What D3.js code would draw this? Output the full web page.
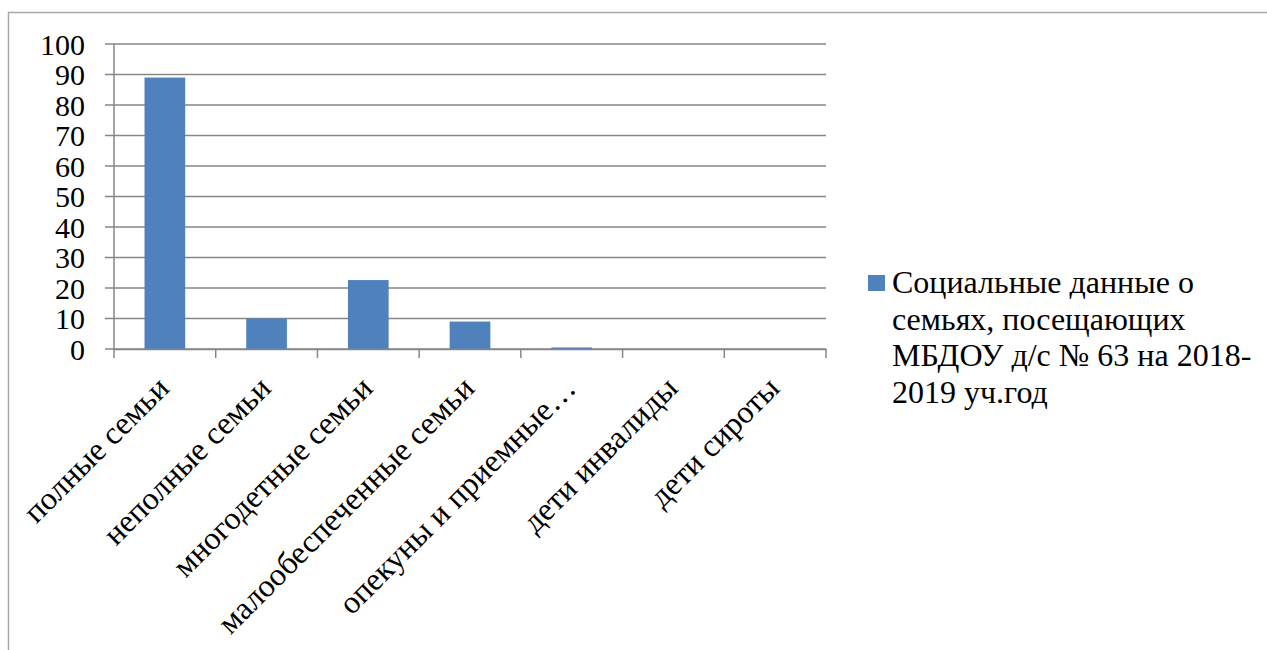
<!DOCTYPE html>
<html>
<head>
<meta charset="utf-8">
<script src="https://cdn.jsdelivr.net/npm/d3@7"></script>
<style>
  html, body { margin: 0; padding: 0; background: #fff; }
  svg { display: block; }
</style>
</head>
<body>
<svg id="chart" width="1267" height="650"></svg>
<script>
// Chart data
const categories = ['полные семьи', 'неполные семьи', 'многодетные семьи',
  'малообеспеченные семьи', 'опекуны и приемные…', 'дети инвалиды', 'дети сироты'];
const values = [89, 10, 22.6, 9, 0.5, 0, 0];
const yTicks = [0, 10, 20, 30, 40, 50, 60, 70, 80, 90, 100];
const seriesName = ['Социальные данные о', 'семьях, посещающих',
  'МБДОУ д/с № 63 на 2018-', '2019 уч.год'];

const svg = d3.select('#chart');
const gray = '#868686';
const barColor = '#4F81BD';
const serif = '"Liberation Serif", serif';

// Outer chart frame (runs off the right and bottom edges)
svg.append('rect')
  .attr('x', 8.5).attr('y', 12.5)
  .attr('width', 1400).attr('height', 800)
  .attr('fill', 'none')
  .attr('stroke', '#a6a6a6')
  .attr('stroke-width', 1.5);

const plot = { left: 114, right: 826, top: 44, bottom: 349 };

const x = d3.scaleBand()
  .domain(categories)
  .range([plot.left, plot.right])
  .padding(0);

const y = d3.scaleLinear()
  .domain([0, 100])
  .range([plot.bottom, plot.top]);

// Gridlines with the left tick stubs
svg.append('g')
  .selectAll('line')
  .data(yTicks)
  .join('line')
  .attr('x1', plot.left - 9)
  .attr('x2', plot.right)
  .attr('y1', d => y(d))
  .attr('y2', d => y(d))
  .attr('stroke', gray)
  .attr('stroke-width', 1.5);

// Bars
const barW = x.bandwidth() * 0.4;
svg.append('g')
  .selectAll('rect')
  .data(values)
  .join('rect')
  .attr('x', (d, i) => x(categories[i]) + (x.bandwidth() - barW) / 2)
  .attr('y', d => y(d))
  .attr('width', barW)
  .attr('height', d => y(0) - y(d))
  .attr('fill', barColor);

// Y axis line
svg.append('line')
  .attr('x1', plot.left).attr('x2', plot.left)
  .attr('y1', plot.top).attr('y2', plot.bottom)
  .attr('stroke', gray)
  .attr('stroke-width', 1.5);

// Y tick labels
svg.append('g')
  .selectAll('text')
  .data(yTicks)
  .join('text')
  .attr('x', 85)
  .attr('y', d => y(d))
  .attr('dy', '0.35em')
  .attr('text-anchor', 'end')
  .style('font-family', serif)
  .style('font-size', '30px')
  .attr('fill', '#000')
  .text(d => d);

// X axis with band boundary ticks
const xAxis = d3.axisBottom(x).tickSize(0).tickFormat('');
const xg = svg.append('g')
  .attr('transform', `translate(0,${plot.bottom})`)
  .call(xAxis);
xg.select('.domain').attr('stroke', gray).attr('stroke-width', 1.5);
xg.selectAll('.tick').remove();

const bounds = categories.map(c => x(c)).concat([plot.right]);
xg.selectAll('line.bound')
  .data(bounds)
  .join('line')
  .attr('class', 'bound')
  .attr('x1', d => d).attr('x2', d => d)
  .attr('y1', 0).attr('y2', 9)
  .attr('stroke', gray)
  .attr('stroke-width', 1.5);

// Rotated category labels
svg.append('g')
  .selectAll('text')
  .data(categories)
  .join('text')
  .attr('transform', d => `translate(${x(d) + x.bandwidth() / 2 + 6},390) rotate(-45)`)
  .attr('text-anchor', 'end')
  .style('font-family', serif)
  .style('font-size', '32px')
  .attr('fill', '#000')
  .text(d => d);

// Legend
const legend = svg.append('g');
legend.append('rect')
  .attr('x', 868).attr('y', 275)
  .attr('width', 17).attr('height', 16)
  .attr('fill', barColor);
legend.append('text')
  .style('font-family', serif)
  .style('font-size', '32px')
  .attr('fill', '#000')
  .selectAll('tspan')
  .data(seriesName)
  .join('tspan')
  .attr('x', 892)
  .attr('y', (d, i) => 293 + i * 36.5)
  .text(d => d);
</script>
</body>
</html>
